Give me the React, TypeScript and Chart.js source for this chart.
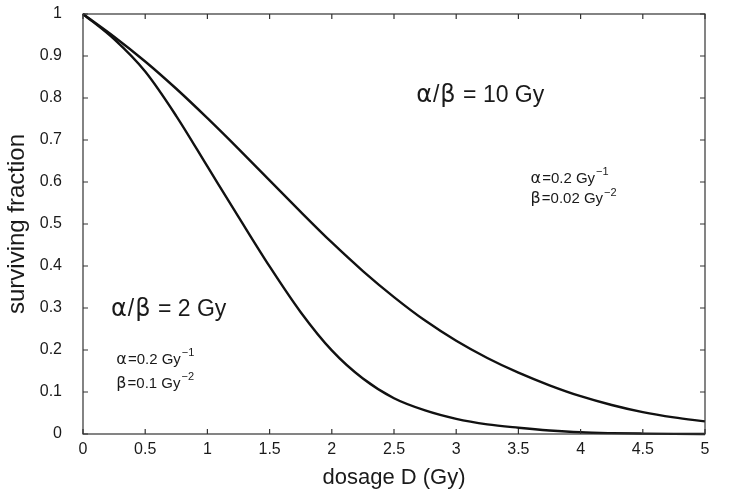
import { useEffect, useRef } from "react";
import { Chart, registerables } from "chart.js";

Chart.register(...registerables);

// Dose grid (Gy) and the surviving fraction of the two cell lines
const doses = [0, 0.25, 0.5, 0.75, 1, 1.25, 1.5, 1.75, 2, 2.25, 2.5, 2.75, 3, 3.25, 3.5, 3.75, 4, 4.25, 4.5, 4.75, 5];
const survivalRatio10 = [1, 0.946, 0.887, 0.822, 0.752, 0.679, 0.604, 0.529, 0.456, 0.388, 0.326, 0.27, 0.222, 0.181, 0.146, 0.116, 0.09, 0.069, 0.052, 0.0395, 0.03];
const survivalRatio2 = [1, 0.94, 0.863, 0.757, 0.637, 0.517, 0.399, 0.29, 0.199, 0.132, 0.085, 0.056, 0.036, 0.023, 0.015, 0.0085, 0.004, 0.002, 0.001, 0.0004, 0.0001];

const xTickStep = 0.5;
const yTickStep = 0.1;

const FONT = "'Liberation Sans', Arial, Helvetica, sans-serif";
const GREEK = "'DejaVu Sans', 'Liberation Sans', sans-serif";
const INK = "#1a1a1a";

type Part = { text: string; sup?: boolean; greek?: boolean };
type Note = { x: number; y: number; size: number; parts: Part[] };

// Text notes, anchored at (dose, fraction) on the text baseline
const notes: Note[] = [
  {
    x: 2.67, y: 0.791, size: 23,
    parts: [{ text: "\u03b1", greek: true }, { text: "/" }, { text: "\u03b2", greek: true }, { text: " = 10 Gy" }],
  },
  {
    x: 3.59, y: 0.598, size: 15,
    parts: [{ text: "\u03b1", greek: true }, { text: "=0.2 Gy" }, { text: "\u22121", sup: true }],
  },
  {
    x: 3.59, y: 0.549, size: 15,
    parts: [{ text: "\u03b2", greek: true }, { text: "=0.02 Gy" }, { text: "\u22122", sup: true }],
  },
  {
    x: 0.217, y: 0.28, size: 23,
    parts: [{ text: "\u03b1", greek: true }, { text: "/" }, { text: "\u03b2", greek: true }, { text: " = 2 Gy" }],
  },
  {
    x: 0.26, y: 0.167, size: 15,
    parts: [{ text: "\u03b1", greek: true }, { text: "=0.2 Gy" }, { text: "\u22121", sup: true }],
  },
  {
    x: 0.26, y: 0.11, size: 15,
    parts: [{ text: "\u03b2", greek: true }, { text: "=0.1 Gy" }, { text: "\u22122", sup: true }],
  },
];

const framePlugin = {
  id: "frameAndNotes",
  afterDraw(chart: any) {
    const { ctx, chartArea: a, scales } = chart;
    const xs = scales.x;
    const ys = scales.y;
    ctx.save();
    ctx.strokeStyle = "#333";
    ctx.lineWidth = 1.2;
    ctx.strokeRect(a.left, a.top, a.right - a.left, a.bottom - a.top);

    // inward tick marks on all four sides
    const len = 5;
    ctx.beginPath();
    xs.ticks.forEach((t: any) => {
      const px = xs.getPixelForValue(t.value);
      ctx.moveTo(px, a.bottom);
      ctx.lineTo(px, a.bottom - len);
      ctx.moveTo(px, a.top);
      ctx.lineTo(px, a.top + len);
    });
    ys.ticks.forEach((t: any) => {
      const py = ys.getPixelForValue(t.value);
      ctx.moveTo(a.left, py);
      ctx.lineTo(a.left + len, py);
      ctx.moveTo(a.right, py);
      ctx.lineTo(a.right - len, py);
    });
    ctx.stroke();

    // annotations
    ctx.fillStyle = INK;
    ctx.textBaseline = "alphabetic";
    ctx.textAlign = "left";
    notes.forEach((n) => {
      let px = xs.getPixelForValue(n.x);
      const py = ys.getPixelForValue(n.y);
      n.parts.forEach((p) => {
        if (p.sup) {
          const s = Math.round(n.size * 0.74);
          ctx.font = `${s}px ${FONT}`;
          ctx.fillText(p.text, px + 1, py - n.size * 0.5);
          px += ctx.measureText(p.text).width + 1;
        } else if (p.greek) {
          ctx.font = `${Math.round(n.size * 1.05)}px ${GREEK}`;
          ctx.fillText(p.text, px + 1, py);
          px += ctx.measureText(p.text).width + 2;
        } else {
          ctx.font = `${n.size}px ${FONT}`;
          ctx.fillText(p.text, px, py);
          px += ctx.measureText(p.text).width;
        }
      });
    });
    ctx.restore();
  },
};

export default function App() {
  const canvasRef = useRef<HTMLCanvasElement | null>(null);

  useEffect(() => {
    if (!canvasRef.current) return;
    const lineStyle = {
      borderColor: "#111",
      borderWidth: 2.4,
      pointRadius: 0,
      cubicInterpolationMode: "monotone" as const,
      fill: false,
      clip: 4,
    };
    const chart = new Chart(canvasRef.current, {
      type: "line",
      data: {
        datasets: [
          {
            label: "\u03b1/\u03b2 = 10 Gy",
            data: doses.map((d, i) => ({ x: d, y: survivalRatio10[i] })),
            ...lineStyle,
          },
          {
            label: "\u03b1/\u03b2 = 2 Gy",
            data: doses.map((d, i) => ({ x: d, y: survivalRatio2[i] })),
            ...lineStyle,
          },
        ],
      },
      options: {
        animation: false,
        responsive: true,
        maintainAspectRatio: false,
        layout: { padding: { top: 14, right: 31, left: 0, bottom: 0 } },
        plugins: {
          legend: { display: false },
          tooltip: { enabled: false },
        },
        scales: {
          x: {
            type: "linear",
            min: 0,
            max: 5,
            border: { display: false },
            grid: { display: false, drawTicks: false },
            ticks: {
              stepSize: xTickStep,
              padding: 6,
              color: INK,
              font: { family: FONT, size: 16 },
              maxRotation: 0,
              callback: (v: any) => String(Math.round(Number(v) * 10) / 10),
            },
            title: {
              display: true,
              text: "dosage D (Gy)",
              color: INK,
              font: { family: FONT, size: 22 },
              padding: { top: 0, bottom: 5 },
            },
            afterFit: (s: any) => {
              s.height = 62;
            },
          },
          y: {
            type: "linear",
            min: 0,
            max: 1,
            border: { display: false },
            grid: { display: false, drawTicks: false },
            ticks: {
              stepSize: yTickStep,
              padding: 21,
              color: INK,
              font: { family: FONT, size: 16 },
              callback: (v: any) => String(Math.round(Number(v) * 10) / 10),
            },
            title: {
              display: true,
              text: "surviving fraction",
              color: INK,
              font: { family: FONT, size: 24 },
              padding: { top: 3, bottom: 0 },
            },
            afterFit: (s: any) => {
              s.width = 83;
              s.paddingTop = 0;
              s.paddingBottom = 0;
            },
          },
        },
      },
      plugins: [framePlugin],
    });
    return () => chart.destroy();
  }, []);

  return (
    <div style={{ position: "fixed", left: 0, top: 0, width: 736, height: 496, background: "#fff" }}>
      <canvas ref={canvasRef} />
    </div>
  );
}
